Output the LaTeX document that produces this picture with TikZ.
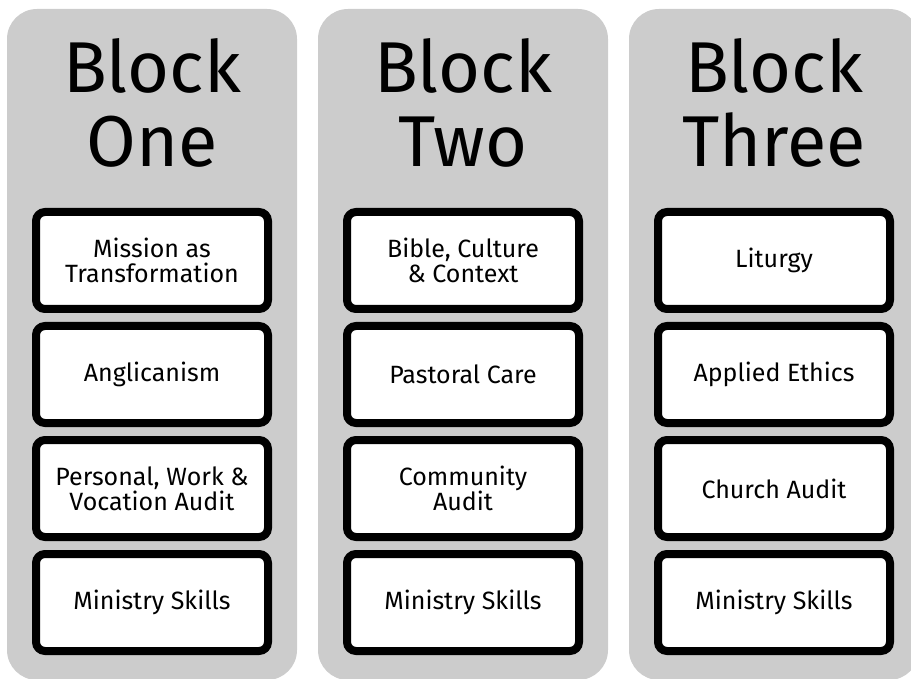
\documentclass[tikz,border=0pt]{standalone}
\usepackage{fontspec}
\setmainfont{Fira Sans}
\usetikzlibrary{positioning, shadows}
\tikzset{
  blockcol/.style={fill=black!20, rounded corners=30pt},
  blocktitle/.style={font=\fontsize{72}{74}\selectfont, align=center, inner sep=0pt},
  topic/.style={draw, line width=8pt, fill=white, rounded corners=9pt,
    minimum width=232pt, minimum height=97pt, align=center,
    font=\fontsize{25}{25}\selectfont,
    drop shadow={shadow xshift=0pt, shadow yshift=-3pt, opacity=0.3}}
}

\begin{document}
\begin{tikzpicture}[x=1pt, y=-1pt]
  \useasboundingbox (0,0) rectangle (911,679);
  \foreach \c/\name/\title in {0/one/{Block\\One}, 1/two/{Block\\Two}, 2/three/{Block\\Three}} {
    \fill[blockcol] (7+311*\c,9) rectangle +(290,671);
    \node[blocktitle, anchor=base] (title-\name) at (152+311*\c,167) {\title};
  }
  \foreach \r/\txt in {1/{Mission as\\Transformation}, 2/Anglicanism,
      3/{Personal, Work \&\\Vocation Audit}, 4/Ministry Skills}
    \node[topic] (one-\r) at (152,146.5+114*\r) {\txt};
  \foreach \r/\txt in {1/{Bible, Culture\\\& Context}, 2/Pastoral Care,
      3/{Community\\Audit}, 4/Ministry Skills}
    \node[topic] (two-\r) at (463,146.5+114*\r) {\txt};
  \foreach \r/\txt in {1/Liturgy, 2/Applied Ethics, 3/Church Audit, 4/Ministry Skills}
    \node[topic] (three-\r) at (774,146.5+114*\r) {\txt};
\end{tikzpicture}
\end{document}
